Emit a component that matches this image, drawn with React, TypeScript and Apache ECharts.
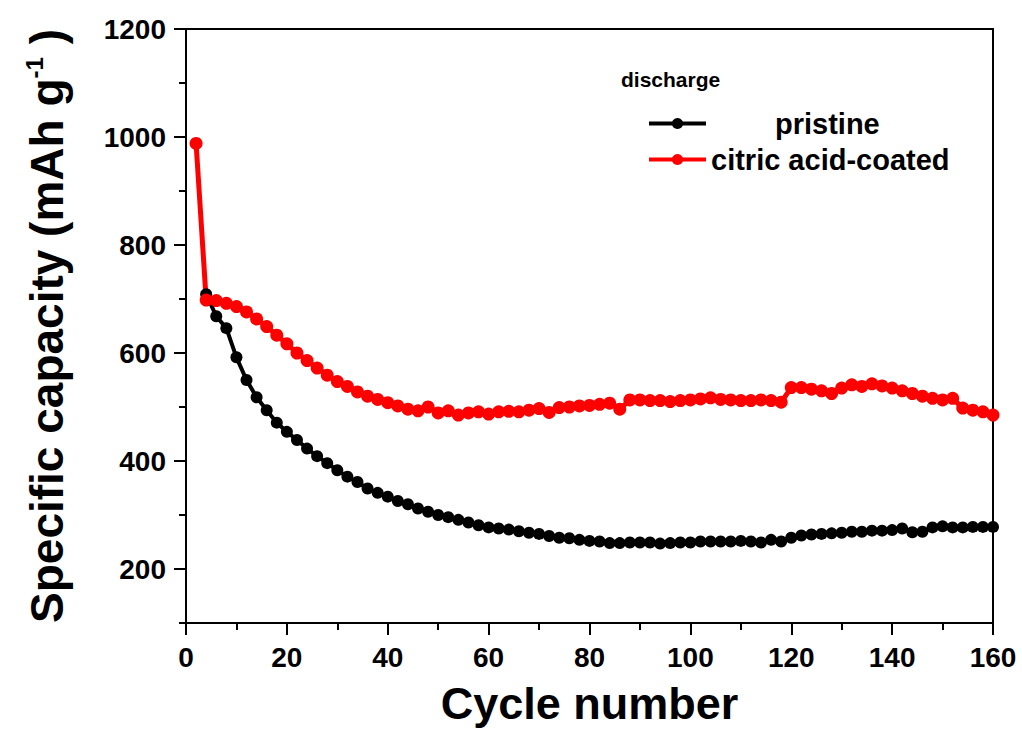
import React, { useEffect, useRef } from "react";
import * as echarts from "echarts";

const cycleNumbers = [
  2, 4, 6, 8, 10, 12, 14, 16, 18, 20, 22, 24, 26, 28, 30, 32, 34, 36, 38, 40,
  42, 44, 46, 48, 50, 52, 54, 56, 58, 60, 62, 64, 66, 68, 70, 72, 74, 76, 78, 80,
  82, 84, 86, 88, 90, 92, 94, 96, 98, 100, 102, 104, 106, 108, 110, 112, 114, 116, 118, 120,
  122, 124, 126, 128, 130, 132, 134, 136, 138, 140, 142, 144, 146, 148, 150, 152, 154, 156, 158, 160,
];

const pristineCapacity = [
  null, 709, 668, 646, 592, 550, 518, 494, 471, 454, 439,
  423, 409, 396, 383, 371, 361, 349, 341, 334, 326,
  320, 312, 306, 300, 296, 291, 286, 281, 277, 275,
  273, 270, 267, 265, 261, 258, 257, 254, 252, 251,
  248, 248, 249, 249, 249, 247, 248, 249, 249, 251,
  251, 251, 251, 252, 251, 249, 254, 251, 258, 262,
  264, 265, 266, 267, 269, 269, 271, 271, 272, 275,
  268, 269, 277, 279, 277, 277, 278, 278, 278,
];

const coatedCapacity = [
  988, 698, 697, 692, 686, 676, 663, 649, 633, 617,
  600, 586, 572, 559, 547, 538, 528, 520, 514, 508,
  502, 496, 493, 500, 489, 493, 485, 489, 491, 487,
  491, 492, 491, 494, 497, 490, 499, 500, 502, 503,
  505, 507, 496, 513, 513, 512, 512, 510, 512, 513,
  515, 517, 514, 513, 512, 512, 513, 512, 509, 536,
  536, 533, 530, 525, 535, 541, 538, 543, 539, 535,
  530, 525, 520, 516, 513, 516, 498, 494, 491, 485,
];

const seriesNames = ["pristine", "citric acid-coated"];
const legendTitle = "discharge";
const xTitle = "Cycle number";
const yMajorTicks = [200, 400, 600, 800, 1000, 1200];
const yMinorTicks = [100, 300, 500, 700, 900, 1100];

const FONT = "'Liberation Sans', Arial, sans-serif";

export default function App() {
  const ref = useRef<HTMLDivElement>(null);

  useEffect(() => {
    document.body.style.margin = "0";
    const chart = echarts.init(ref.current!, null, { renderer: "svg" });
    const pair = (vals: (number | null)[]) =>
      cycleNumbers.map((c, i) => [c, vals[i]]).filter((p) => p[1] !== null);

    const axisLineStyle = { color: "#000", width: 2 };

    chart.setOption({
      animation: false,
      backgroundColor: "#fff",
      textStyle: { fontFamily: FONT },
      grid: {
        left: 186,
        right: 29,
        top: 29,
        bottom: 108,
        show: true,
        borderColor: "#000",
        borderWidth: 2,
      },
      legend: {
        orient: "vertical",
        left: 642,
        top: 104,
        itemWidth: 57,
        itemHeight: 14,
        itemGap: 7,
        lineStyle: { width: 4 },
        textStyle: {
          fontFamily: FONT,
          fontWeight: "bold",
          fontSize: 29,
          lineHeight: 29,
          color: "#000",
        },
        data: [
          { name: seriesNames[0], textStyle: { padding: [0, 0, 0, 64] } },
          { name: seriesNames[1] },
        ],
      },
      graphic: [
        {
          type: "text",
          left: 621,
          top: 69,
          style: {
            text: legendTitle,
            font: `bold 21px ${FONT}`,
            fill: "#000",
          },
        },
      ],
      xAxis: {
        type: "value",
        min: 0,
        max: 160,
        interval: 20,
        name: xTitle,
        nameLocation: "middle",
        nameGap: 58,
        nameTextStyle: {
          fontFamily: FONT,
          fontWeight: "bold",
          fontSize: 45,
          color: "#000",
        },
        axisLine: { show: true, lineStyle: axisLineStyle },
        axisTick: { show: true, length: 12, lineStyle: axisLineStyle },
        minorTick: { show: true, splitNumber: 2, length: 7, lineStyle: axisLineStyle },
        axisLabel: {
          margin: 20,
          fontFamily: FONT,
          fontWeight: "bold",
          fontSize: 28,
          color: "#000",
        },
        splitLine: { show: false },
      },
      yAxis: [
        {
          type: "value",
          min: 100,
          max: 1200,
          interval: 100,
          name: "{a|Specific capacity (mAh g}{b|-1}{a| )}",
          nameLocation: "middle",
          nameRotate: 90,
          nameGap: 114,
          nameTextStyle: {
            rich: {
              a: {
                fontFamily: FONT,
                fontWeight: "bold",
                fontSize: 46,
                lineHeight: 50,
                color: "#000",
              },
              b: {
                fontFamily: FONT,
                fontWeight: "bold",
                fontSize: 24,
                verticalAlign: "top",
                color: "#000",
              },
            },
          },
          axisLine: { show: true, lineStyle: axisLineStyle },
          axisTick: {
            show: true,
            length: 12,
            customValues: yMajorTicks,
            lineStyle: axisLineStyle,
          },
          axisLabel: {
            customValues: yMajorTicks,
            formatter: (v: number) => String(v),
            margin: 20,
            fontFamily: FONT,
            fontWeight: "bold",
            fontSize: 28,
            color: "#000",
          },
          splitLine: { show: false },
        },
        {
          type: "value",
          position: "left",
          min: 100,
          max: 1200,
          interval: 100,
          axisLine: { show: false },
          axisTick: {
            show: true,
            length: 7,
            customValues: yMinorTicks,
            lineStyle: axisLineStyle,
          },
          axisLabel: { show: false },
          splitLine: { show: false },
        },
      ],
      series: [
        {
          name: seriesNames[0],
          type: "line",
          data: pair(pristineCapacity),
          symbol: "circle",
          symbolSize: 12,
          lineStyle: { color: "#000", width: 4 },
          itemStyle: { color: "#000" },
        },
        {
          name: seriesNames[1],
          type: "line",
          data: pair(coatedCapacity),
          symbol: "circle",
          symbolSize: 13,
          lineStyle: { color: "#f00", width: 5 },
          itemStyle: { color: "#f00" },
        },
      ],
    });
    return () => chart.dispose();
  }, []);

  return <div ref={ref} style={{ width: 1022, height: 731 }} />;
}
